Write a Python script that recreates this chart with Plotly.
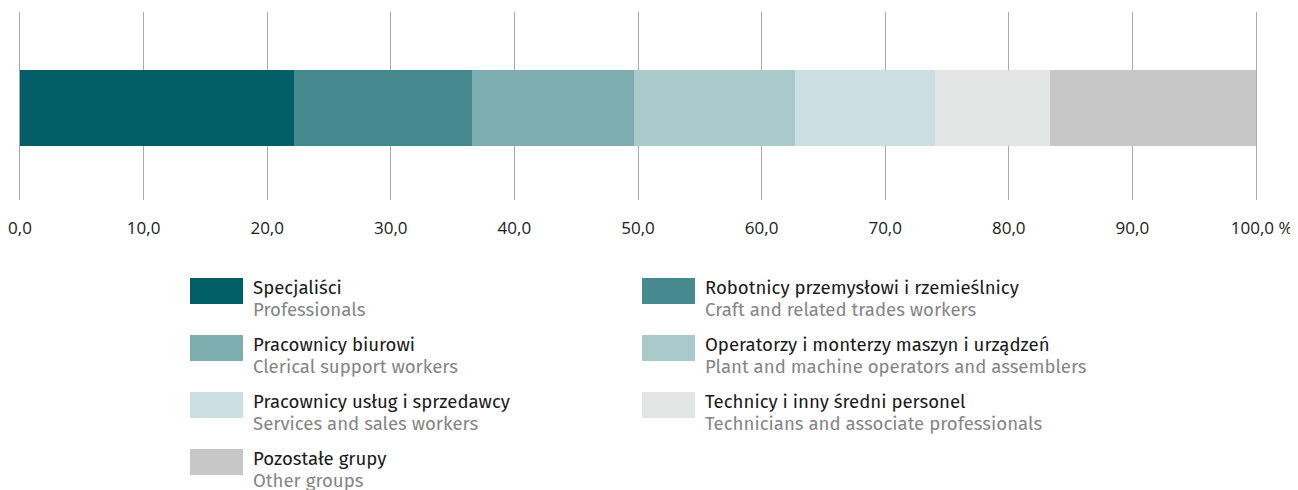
import plotly.graph_objects as go

# Data
categories_pl = ["Specjaliści", "Robotnicy przemysłowi i rzemieślnicy", "Pracownicy biurowi",
                 "Operatorzy i monterzy maszyn i urządzeń", "Pracownicy usług i sprzedawcy",
                 "Technicy i inny średni personel", "Pozostałe grupy"]
categories_en = ["Professionals", "Craft and related trades workers", "Clerical support workers",
                 "Plant and machine operators and assemblers", "Services and sales workers",
                 "Technicians and associate professionals", "Other groups"]
values = [22.2, 14.4, 13.1, 13.0, 11.3, 9.3, 16.7]
colors = ["#035f67", "#468a8d", "#7eadb0", "#a9c9cb", "#cce0e3", "#e3e4e4", "#c7c7c7"]
tick_vals = [0, 10, 20, 30, 40, 50, 60, 70, 80, 90, 100]
tick_text = ["0,0", "10,0", "20,0", "30,0", "40,0", "50,0", "60,0", "70,0", "80,0", "90,0",
             "\u2002\u2009100,0 %"]

FONT = "Fira Sans, Noto Sans, Open Sans, sans-serif"
TICKFONT = "Open Sans, Noto Sans, sans-serif"

# page offset of the figure (default body margin)
OFF = 8
W, H = 1298 - OFF, 490 - OFF
ML, MT = 20 - OFF, 12 - OFF
PW, PH = 1236, 188
MR = W - ML - PW
MB = H - MT - PH

fig = go.Figure()
for name, v, c in zip(categories_pl, values, colors):
    fig.add_trace(go.Bar(x=[v], y=[0], orientation="h", name=name,
                         marker=dict(color=c, line=dict(width=0)), width=0.404,
                         showlegend=False, hoverinfo="x+name"))

# Manual legend (2 columns), positions in page pixels
col_x = [190, 642]
row_y0 = 278
row_step = 57
shapes = []
annotations = []


def px(x):
    return (x - OFF - ML) / PW


def py(y):
    return (H - MB - (y - OFF)) / PH


for i, (pl, en, c) in enumerate(zip(categories_pl, categories_en, colors)):
    r, col = divmod(i, 2)
    x0 = col_x[col]
    y0 = row_y0 + r * row_step
    shapes.append(dict(type="rect", xref="paper", yref="paper",
                       x0=px(x0), x1=px(x0 + 53), y0=py(y0 + 26), y1=py(y0),
                       fillcolor=c, line=dict(width=0), layer="above"))
    annotations.append(dict(xref="paper", yref="paper", x=px(x0 + 61), y=py(y0 + 10),
                            xanchor="left", yanchor="middle", showarrow=False,
                            text=pl, font=dict(family=FONT, size=18.6, color="#1a1a1a")))
    annotations.append(dict(xref="paper", yref="paper", x=px(x0 + 61), y=py(y0 + 32),
                            xanchor="left", yanchor="middle", showarrow=False,
                            text=en, font=dict(family=FONT, size=18.6, color="#858585")))

fig.update_layout(
    barmode="stack",
    width=W, height=H,
    margin=dict(l=ML, r=MR, t=MT, b=MB, autoexpand=False),
    plot_bgcolor="white", paper_bgcolor="white",
    font=dict(family=FONT, size=17, color="#1a1a1a"),
    xaxis=dict(range=[0, 100], tickvals=tick_vals, ticktext=tick_text, automargin=False,
               showgrid=True, gridcolor="#a8a8a8", gridwidth=1, zeroline=False,
               showline=False, ticks="", ticklabelstandoff=16,
               tickfont=dict(family=TICKFONT, size=17, color="#1a1a1a"), fixedrange=True),
    yaxis=dict(range=[-0.4894, 0.5106], showticklabels=False, showgrid=False, zeroline=False,
               showline=True, mirror=True, linecolor="#a8a8a8", linewidth=1,
               ticks="", automargin=False, fixedrange=True),
    shapes=shapes, annotations=annotations,
    bargap=0,
)

fig.write_html("out.html")
